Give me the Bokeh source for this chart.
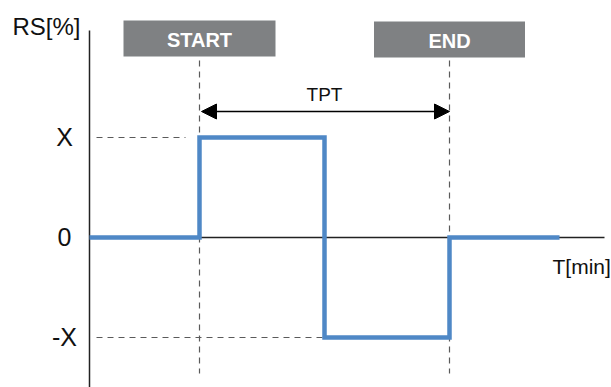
from bokeh.plotting import figure
from bokeh.models import Range1d, Arrow, NormalHead
from bokeh.core.properties import value
from bokeh.embed import file_html
from bokeh.resources import INLINE

# ---- data ----
step_t = [0, 1.1, 1.1, 2.35, 2.35, 3.6, 3.6, 4.7]
step_rs = [0, 0, 1, 1, -1, -1, 0, 0]
level_labels = ["X", "0", "-X"]
level_values = [1, 0, -1]
marker_names = ["START", "END"]
marker_t = [1.1, 3.6]
span_label = "TPT"
y_title = "RS[%]"
x_title = "T[min]"

FONT = "Liberation Sans"
BLUE = "#4f88c6"
GRAY_BOX = "#7f8183"
DASH = "#5a5a5a"

p = figure(width=611, height=387, output_backend="svg", toolbar_location=None,
           x_range=Range1d(-0.89, 5.22), y_range=Range1d(-1.50, 2.37),
           min_border=0, x_axis_type=None, y_axis_type=None)
p.grid.visible = False
p.outline_line_color = None
p.background_fill_color = "white"
p.border_fill_color = "white"

# axes lines
p.segment(x0=[0], y0=[-1.6], x1=[0], y1=[2.07], line_color="#222222", line_width=1.5)
p.segment(x0=[0], y0=[0], x1=[5.15], y1=[0], line_color="#222222", line_width=1.5)

# dashed reference lines
p.segment(x0=[0.07], y0=[level_values[0]], x1=[marker_t[0] - 0.14], y1=[level_values[0]],
          line_color=DASH, line_width=1.2, line_dash="6 5")
p.segment(x0=[0.07], y0=[level_values[2]], x1=[step_t[4]], y1=[level_values[2]],
          line_color=DASH, line_width=1.2, line_dash="6 5")
p.segment(x0=marker_t, y0=[1.77, 1.77], x1=marker_t, y1=[-1.36, -1.36],
          line_color=DASH, line_width=1.2, line_dash="6 5")

# step signal
p.line(step_t, step_rs, line_color=BLUE, line_width=4.5, line_join="miter")

# marker boxes
p.rect(x=marker_t, y=[1.99, 1.98], width=[1.52, 1.51], height=[0.36, 0.36],
       fill_color=GRAY_BOX, line_color=None)
p.text(x=marker_t, y=[1.98, 1.97], text=marker_names, text_color="white",
       text_font=value(FONT), text_font_style="bold", text_font_size="20px",
       text_align="center", text_baseline="middle")

# TPT arrow
p.add_layout(Arrow(x_start=marker_t[0] + 0.02, y_start=1.26, x_end=marker_t[1], y_end=1.26,
                   line_color="black", line_width=1.5,
                   start=NormalHead(size=15, fill_color="black", line_color="black"),
                   end=NormalHead(size=15, fill_color="black", line_color="black")))
p.text(x=[(marker_t[0] + marker_t[1]) / 2], y=[1.435], text=[span_label],
       text_font=value(FONT), text_font_size="19px", text_color="#111111",
       text_align="center", text_baseline="middle")

# level labels
p.text(x=[-0.25] * 3, y=[v + 0.01 for v in level_values], text=level_labels,
       text_font=value(FONT), text_font_size="25px", text_color="#111111",
       text_align="center", text_baseline="middle")

# axis titles
p.text(x=[-0.77], y=[2.11], text=[y_title], text_font=value(FONT), text_font_size="24px",
       text_color="#111111", text_align="left", text_baseline="middle")
p.text(x=[4.63], y=[-0.285], text=[x_title], text_font=value(FONT), text_font_size="21px",
       text_color="#111111", text_align="left", text_baseline="middle")

open("out.html", "w").write(file_html(p, INLINE))
